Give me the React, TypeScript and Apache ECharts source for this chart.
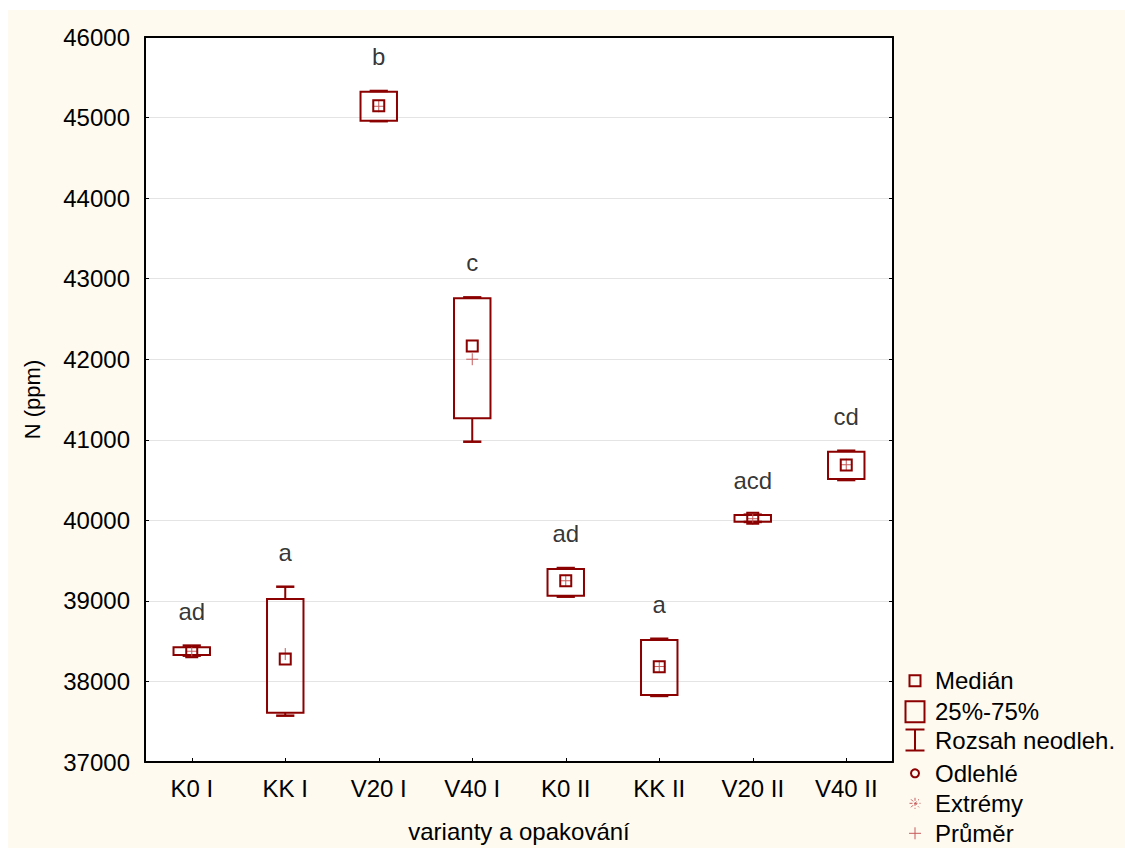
import React, { useEffect, useRef } from "react";
import * as echarts from "echarts";

const categories = ["K0 I", "KK I", "V20 I", "V40 I", "K0 II", "KK II", "V20 II", "V40 II"];
const whiskerMin = [38320, 37575, 44955, 40976, 39052, 37820, 39980, 40500];
const quartile1 = [38328, 37612, 44961, 41266, 39064, 37832, 39983, 40513];
const medians = [38369, 38279, 45147, 42164, 39251, 38183, 40025, 40687];
const quartile3 = [38424, 39023, 45321, 42756, 39396, 38514, 40066, 40852];
const whiskerMax = [38445, 39176, 45330, 42768, 39408, 38530, 40070, 40864];
const means = [38375, 38340, 45140, 42000, 39250, 38185, 40020, 40690];
const groupLetters = ["ad", "a", "b", "c", "ad", "a", "acd", "cd"];

const legendItems = ["Medián", "25%-75%", "Rozsah neodleh.", "Odlehlé", "Extrémy", "Průměr"];
const yTicksMin = 37000;
const yTicksMax = 46000;
const yTickStep = 1000;

const FONT = "'Liberation Sans', Arial, Helvetica, sans-serif";
const DARK = "#8b0000";
const LIGHT = "#c65a5a";
const TEXT = "#000";
const FS = 24;

export default function App() {
  const ref = useRef<HTMLDivElement>(null);
  useEffect(() => {
    if (!ref.current) return;
    const chart = echarts.init(ref.current, null, { renderer: "svg" });

    const boxData = categories.map((_, i) => [
      i,
      whiskerMin[i],
      quartile1[i],
      medians[i],
      quartile3[i],
      whiskerMax[i],
      means[i],
    ]);

    const renderItem = (params: any, api: any) => {
      const i = api.value(0);
      const pMin = api.coord([i, api.value(1)]);
      const pQ1 = api.coord([i, api.value(2)]);
      const pMed = api.coord([i, api.value(3)]);
      const pQ3 = api.coord([i, api.value(4)]);
      const pMax = api.coord([i, api.value(5)]);
      const pMean = api.coord([i, api.value(6)]);
      const band = api.size([1, 0])[0];
      const bw = band * 0.39;
      const cx = pMed[0];
      const cap = bw / 2;
      const st = { stroke: DARK, fill: "none", lineWidth: 2 };
      const ms = 5.5;
      const arm = 6;
      return {
        type: "group",
        children: [
          { type: "line", shape: { x1: cx, y1: pMax[1], x2: cx, y2: pQ3[1] }, style: st },
          { type: "line", shape: { x1: cx, y1: pQ1[1], x2: cx, y2: pMin[1] }, style: st },
          { type: "line", shape: { x1: cx - cap / 2, y1: pMax[1], x2: cx + cap / 2, y2: pMax[1] }, style: { ...st, lineWidth: 2.5 } },
          { type: "line", shape: { x1: cx - cap / 2, y1: pMin[1], x2: cx + cap / 2, y2: pMin[1] }, style: { ...st, lineWidth: 2.5 } },
          {
            type: "rect",
            shape: { x: cx - bw / 2, y: pQ3[1], width: bw, height: pQ1[1] - pQ3[1] },
            style: st,
          },
          { type: "line", shape: { x1: pMean[0] - arm, y1: pMean[1], x2: pMean[0] + arm, y2: pMean[1] }, style: { stroke: LIGHT, lineWidth: 1 } },
          { type: "line", shape: { x1: pMean[0], y1: pMean[1] - arm, x2: pMean[0], y2: pMean[1] + arm }, style: { stroke: LIGHT, lineWidth: 1 } },
          {
            type: "rect",
            shape: { x: cx - ms, y: pMed[1] - ms, width: ms * 2, height: ms * 2 },
            style: st,
          },
        ],
      };
    };

    const lx = 907;
    const tx = 927;
    const ly = [670.7, 701.7, 730, 763.3, 793.3, 823.3];
    const legendGraphics: any[] = [];
    legendGraphics.push({ type: "rect", shape: { x: lx - 5.5, y: ly[0] - 5.5, width: 11, height: 11 }, style: { stroke: DARK, fill: "none", lineWidth: 2 } });
    legendGraphics.push({ type: "rect", shape: { x: lx - 9.5, y: ly[1] - 10.5, width: 19, height: 21 }, style: { stroke: DARK, fill: "none", lineWidth: 2 } });
    legendGraphics.push({ type: "line", shape: { x1: lx, y1: ly[2] - 10.5, x2: lx, y2: ly[2] + 10.5 }, style: { stroke: DARK, lineWidth: 2 } });
    legendGraphics.push({ type: "line", shape: { x1: lx - 9.5, y1: ly[2] - 10.5, x2: lx + 9.5, y2: ly[2] - 10.5 }, style: { stroke: DARK, lineWidth: 2 } });
    legendGraphics.push({ type: "line", shape: { x1: lx - 9.5, y1: ly[2] + 10.5, x2: lx + 9.5, y2: ly[2] + 10.5 }, style: { stroke: DARK, lineWidth: 2 } });
    legendGraphics.push({ type: "circle", shape: { cx: lx, cy: ly[3], r: 4 }, style: { stroke: DARK, fill: "none", lineWidth: 2 } });
    const a = 5.5;
    const d = 4;
    const ast = { stroke: LIGHT, lineWidth: 1, lineDash: [3, 2] };
    legendGraphics.push({ type: "line", shape: { x1: lx, y1: ly[4] - a, x2: lx, y2: ly[4] + a }, style: ast });
    legendGraphics.push({ type: "line", shape: { x1: lx - a, y1: ly[4], x2: lx + a, y2: ly[4] }, style: ast });
    legendGraphics.push({ type: "line", shape: { x1: lx - d, y1: ly[4] - d, x2: lx + d, y2: ly[4] + d }, style: ast });
    legendGraphics.push({ type: "line", shape: { x1: lx - d, y1: ly[4] + d, x2: lx + d, y2: ly[4] - d }, style: ast });
    legendGraphics.push({ type: "line", shape: { x1: lx - 6, y1: ly[5], x2: lx + 6, y2: ly[5] }, style: { stroke: LIGHT, lineWidth: 1 } });
    legendGraphics.push({ type: "line", shape: { x1: lx, y1: ly[5] - 6, x2: lx, y2: ly[5] + 6 }, style: { stroke: LIGHT, lineWidth: 1 } });
    legendItems.forEach((t, k) => {
      legendGraphics.push({
        type: "text",
        x: tx,
        y: ly[k],
        style: { text: t, fontSize: FS, fontFamily: FONT, fill: TEXT, verticalAlign: "middle", align: "left" },
      });
    });

    const axisLineStyle = { color: "#000", width: 2 };

    chart.setOption({
      animation: false,
      backgroundColor: "#fefaf0",
      grid: {
        left: 137,
        top: 27,
        right: 232,
        bottom: 86,
        show: true,
        backgroundColor: "#ffffff",
        borderWidth: 0,
      },
      xAxis: [
        {
          type: "category",
          data: categories,
          boundaryGap: true,
          position: "bottom",
          axisLine: { show: true, lineStyle: axisLineStyle },
          axisTick: { show: true, inside: true, alignWithLabel: true, length: 4, lineStyle: { color: "#000", width: 1 } },
          axisLabel: { fontSize: FS, fontFamily: FONT, color: TEXT, margin: 14 },
          splitLine: { show: false },
          name: "varianty a opakování",
          nameLocation: "middle",
          nameGap: 57,
          nameTextStyle: { fontSize: FS, fontFamily: FONT, color: TEXT },
        },
        {
          type: "category",
          data: categories,
          position: "top",
          axisLine: { show: true, lineStyle: axisLineStyle },
          axisTick: { show: false },
          axisLabel: { show: false },
          splitLine: { show: false },
        },
      ],
      yAxis: [
        {
          type: "value",
          min: yTicksMin,
          max: yTicksMax,
          interval: yTickStep,
          position: "left",
          axisLine: { show: true, lineStyle: axisLineStyle },
          axisTick: { show: true, inside: true, length: 4, lineStyle: { color: "#000", width: 1 } },
          axisLabel: { fontSize: FS, fontFamily: FONT, color: TEXT, margin: 15, formatter: (v: number) => String(v) },
          splitLine: { show: true, lineStyle: { color: "#e4e4e4", width: 1 } },
          name: "N (ppm)",
          nameLocation: "middle",
          nameRotate: 90,
          nameGap: 102,
          nameTextStyle: { fontSize: 22, fontFamily: FONT, color: TEXT },
        },
        {
          type: "value",
          min: yTicksMin,
          max: yTicksMax,
          interval: yTickStep,
          position: "right",
          axisLine: { show: true, lineStyle: axisLineStyle },
          axisTick: { show: true, inside: true, length: 4, lineStyle: { color: "#000", width: 1 } },
          axisLabel: { show: false },
          splitLine: { show: false },
        },
      ],
      series: [
        {
          type: "custom",
          renderItem,
          data: boxData,
          encode: { x: 0, y: [1, 2, 3, 4, 5] },
          clip: false,
          z: 5,
        },
        {
          type: "scatter",
          data: categories.map((_, i) => [i, whiskerMax[i]]),
          symbolSize: 1,
          itemStyle: { color: "rgba(0,0,0,0)" },
          label: {
            show: true,
            position: "top",
            distance: 22,
            formatter: (p: any) => groupLetters[p.dataIndex],
            fontSize: FS,
            fontFamily: FONT,
            color: TEXT,
          },
          z: 6,
        },
      ],
      graphic: legendGraphics,
    });

    return () => chart.dispose();
  }, []);

  return (
    <div
      ref={ref}
      style={{ position: "fixed", left: 8, top: 10, width: 1117, height: 838 }}
    />
  );
}
